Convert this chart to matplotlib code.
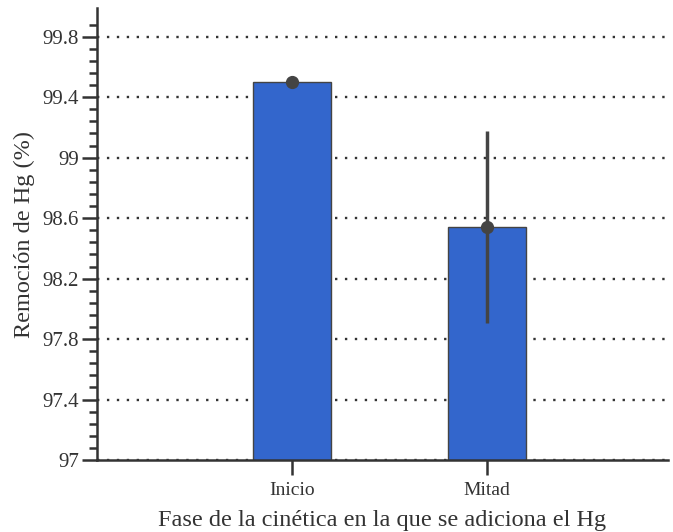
import numpy as np
import matplotlib
matplotlib.use("Agg")
import matplotlib.pyplot as plt
from matplotlib.ticker import FixedLocator

# ---- data ----
fases = ["Inicio", "Mitad"]
remocion = [99.50, 98.54]
error = [0.0, 0.635]

BAR = "#3366cc"
INK = "#444444"
AXIS = "#333333"

plt.rcParams.update({
    "font.family": ["Liberation Serif", "DejaVu Serif"],
    "font.size": 11,
})

fig = plt.figure(figsize=(6.73, 5.32), dpi=100)
ax = fig.add_axes([97 / 673, 72 / 532, 571 / 673, 452 / 532])

x = list(range(len(fases)))
ax.bar(x, remocion, width=0.4, color=BAR, edgecolor=INK, linewidth=1.0, zorder=2)
ax.errorbar(x, remocion, yerr=error, fmt="o", color=INK, markersize=8.5,
            elinewidth=2.5, capsize=0, zorder=3)

ax.set_xlim(-1, 1.93)
ax.set_ylim(97, 99.99)
ax.set_xticks(x)
ax.set_xticklabels(fases, fontsize=14)
major = [97, 97.4, 97.8, 98.2, 98.6, 99, 99.4, 99.8]
ax.set_yticks(major)
ax.set_yticklabels(["97", "97.4", "97.8", "98.2", "98.6", "99", "99.4", "99.8"], fontsize=15)
# minor ticks every 0.08, starting from the axis floor (last one just above 99.8)
minor = np.round(np.arange(97, 99.9, 0.08), 2)
ax.yaxis.set_minor_locator(FixedLocator([m for m in minor if m not in major]))

ax.grid(axis="y", linestyle=(0, (1, 3.2)), color="#333333", linewidth=1.7, zorder=0)
ax.set_axisbelow(True)

for s in ["top", "right"]:
    ax.spines[s].set_visible(False)
for s in ["left", "bottom"]:
    ax.spines[s].set_color(AXIS)
    ax.spines[s].set_linewidth(1.8)

ax.tick_params(axis="both", which="major", length=11, width=1.8, color=AXIS,
               labelcolor="#333333", pad=2)
ax.tick_params(axis="x", which="major", pad=5)
ax.tick_params(axis="y", which="minor", length=6, width=1.8, color=AXIS)

ax.set_xlabel("Fase de la cinética en la que se adiciona el Hg", fontsize=17.5,
              color="#333333", labelpad=8)
ax.set_ylabel("Remoción de Hg (%)", fontsize=17.5, color="#333333", labelpad=5)

fig.savefig("out.png", dpi=100)
